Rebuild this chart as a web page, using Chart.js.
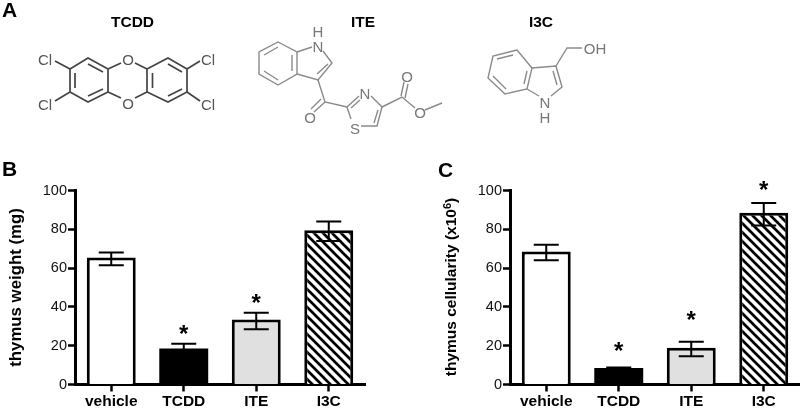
<!DOCTYPE html>
<html>
<head>
<meta charset="utf-8">
<title>Thymus weight and cellularity</title>
<script src="https://cdn.jsdelivr.net/npm/chart.js@4"></script>
<style>
    html, body { margin: 0; padding: 0; background: #fff; }
    #page { position: relative; width: 800px; height: 408px; overflow: hidden; font-family: "Liberation Sans", Arial, sans-serif; }
    canvas { position: absolute; top: 0; }
    #weightChart { left: 0; }
    #cellChart { left: 420px; }
    svg { position: absolute; left: 0; top: 0; }
    svg text { font-family: "Liberation Sans", Arial, sans-serif; }
    .panel { font-size: 21px; font-weight: bold; fill: #000; }
    .name { font-size: 15.5px; font-weight: bold; fill: #000; text-anchor: middle; }
    .atom { font-size: 15px; text-anchor: middle; }
    .dark { stroke: #444; stroke-width: 1.7; fill: none; }
    .grey { stroke: #8a8a8a; stroke-width: 1.4; fill: none; }
    .axis-title { font-size: 15.5px; font-weight: bold; fill: #000; text-anchor: middle; }
</style>
</head>
<body>
<div id="page">
    <canvas id="weightChart" width="400" height="408"></canvas>
    <canvas id="cellChart" width="380" height="408"></canvas>

    <svg width="800" height="408">
        <text class="panel" x="2" y="17">A</text>
        <text class="panel" x="2" y="176">B</text>
        <text class="panel" x="438" y="177">C</text>
        <text class="name" x="132.5" y="27">TCDD</text>
        <text class="name" x="363" y="27">ITE</text>
        <text class="name" x="541" y="27">I3C</text>
        <text class="axis-title" transform="translate(456 287) rotate(-90)">thymus cellularity (x10<tspan dy="-5" font-size="11">6</tspan><tspan dy="5">)</tspan></text>

        <!-- TCDD -->
        <g class="dark">
            <path d="M70 69 L88 58 L108 69 L108 92 L88 102 L70 92 Z"/>
            <path d="M147 69 L168 58 L187 69 L187 92 L168 102 L147 92 Z"/>
            <path d="M108 69 L121 63 M135 63 L147 69 M108 92 L121 98 M135 98 L147 92"/>
            <path d="M75 73 L75 88 M88 64 L103 72 M88 96 L103 89 M152.5 73 L152.5 88 M168 64 L182 72 M168 96 L182 89"/>
            <path d="M70 69 L55 61 M70 92 L55 101 M187 69 L200 61 M187 92 L200 101"/>
        </g>
        <g fill="#555">
            <text class="atom" x="45" y="65">Cl</text>
            <text class="atom" x="45" y="110">Cl</text>
            <text class="atom" x="208" y="65">Cl</text>
            <text class="atom" x="208" y="110">Cl</text>
            <text class="atom" x="128" y="65">O</text>
            <text class="atom" x="128" y="109">O</text>
        </g>

        <!-- ITE -->
        <g class="grey">
            <path d="M278 42 L297 52 L297 74 L278 85 L259 74 L259 52 Z"/>
            <path d="M264 55 L278 47 M264 71 L278 80 M292 55 L292 71"/>
            <path d="M297 52 L312 47 M323 51 L332 63 L318 80 L297 74 M328 64 L317 74"/>
            <path d="M318 80 L325 102 L347 107 M325 102 L314 112 M321 99 L311 109"/>
            <path d="M347 107 L359 96 M371 96 L382 107 L377 126 L361 126 M351 108 L360 100 M378 110 L374 123 M347 107 L351 119"/>
            <path d="M382 107 L402 97 L415 108 M425 110 L442 103 M401 96 L404 82 M405 98 L408 84"/>
        </g>
        <g fill="#777">
            <text class="atom" x="318" y="37">H</text>
            <text class="atom" x="318" y="52">N</text>
            <text class="atom" x="310" y="123">O</text>
            <text class="atom" x="365" y="99">N</text>
            <text class="atom" x="355" y="134">S</text>
            <text class="atom" x="407" y="82">O</text>
            <text class="atom" x="420" y="118">O</text>
        </g>

        <!-- I3C -->
        <g class="grey">
            <path d="M517 50 L493 56 L488 78 L505 94 L527 89 L532 68 Z"/>
            <path d="M513 55 L497 59 M493 76 L506 89 M527 71 L524 84" />
            <path d="M532 68 L556 66 L562 87 L551 96 M539 96 L527 89 M553 71 L557 85"/>
            <path d="M556 66 L567 48 L582 48"/>
        </g>
        <g fill="#777">
            <text class="atom" x="545" y="108">N</text>
            <text class="atom" x="545" y="123">H</text>
            <text class="atom" x="595" y="54">OH</text>
        </g>
    </svg>
</div>

<script>
const categories = ['vehicle', 'TCDD', 'ITE', 'I3C'];
const yTicks = [0, 20, 40, 60, 80, 100];

const weightMeans = [65.5, 18.5, 33.5, 79.5];
const weightHigh = [68, 21, 37, 84];
const weightLow = [61.5, 15, 28.5, 74];
const weightStars = [null, 27, 43, null];

const cellMeans = [68.5, 8.5, 19, 88.5];
const cellHigh = [72, 8.8, 22, 93.5];
const cellLow = [64, 7, 14.5, 82];
const cellStars = [null, 18, 34, 101];

const fontFamily = '"Liberation Sans", Arial, sans-serif';

// diagonal stripes for the I3C bar
function makeHatch() {
    const size = 9;
    const tile = document.createElement('canvas');
    tile.width = size;
    tile.height = size;
    const c = tile.getContext('2d');
    c.fillStyle = '#fff';
    c.fillRect(0, 0, size, size);
    c.strokeStyle = '#000';
    c.lineWidth = 2.7;
    c.beginPath();
    c.moveTo(-2, -2);
    c.lineTo(size + 2, size + 2);
    c.moveTo(-2, size - 2);
    c.lineTo(2, size + 2);
    c.moveTo(size - 2, -2);
    c.lineTo(size + 2, 2);
    c.stroke();
    return c.createPattern(tile, 'repeat');
}

const errorBars = {
    id: 'errorBars',
    afterDatasetsDraw(chart, args, opts) {
        const c = chart.ctx;
        const x = chart.scales.x;
        const y = chart.scales.y;
        c.save();
        c.strokeStyle = '#000';
        c.lineWidth = 2;
        c.fillStyle = '#000';
        c.font = 'bold 24px ' + fontFamily;
        c.textAlign = 'center';
        c.textBaseline = 'middle';
        categories.forEach((name, i) => {
            const px = x.getPixelForValue(i);
            const top = y.getPixelForValue(opts.high[i]);
            const bottom = y.getPixelForValue(opts.low[i]);
            c.beginPath();
            c.moveTo(px, top);
            c.lineTo(px, bottom);
            c.moveTo(px - 12.5, top);
            c.lineTo(px + 12.5, top);
            c.moveTo(px - 12.5, bottom);
            c.lineTo(px + 12.5, bottom);
            c.stroke();
            if (opts.stars[i] !== null) {
                c.fillText('*', px, y.getPixelForValue(opts.stars[i]) + 3);
            }
        });
        c.restore();
    }
};

function drawPanel(id, means, high, low, stars, title, leftWidth) {
    const ctx = document.getElementById(id).getContext('2d');
    return new Chart(ctx, {
        type: 'bar',
        data: {
            labels: categories,
            datasets: [{
                data: means,
                backgroundColor: ['#fff', '#000', '#e0e0e0', makeHatch()],
                borderColor: '#000',
                borderWidth: [3, 0, 3, 3], // black bar needs no border, avoids a seam
                borderSkipped: 'bottom',
                barPercentage: 0.675,
                categoryPercentage: 1
            }]
        },
        options: {
            responsive: false,
            animation: false,
            layout: { padding: { top: 190.5, right: id === 'weightChart' ? 35 : 0, bottom: 0, left: 0 } },
            plugins: {
                legend: { display: false },
                tooltip: { enabled: false },
                errorBars: { high: high, low: low, stars: stars }
            },
            scales: {
                x: {
                    afterFit(scale) { scale.height = 23.5; },
                    border: { color: '#000', width: 3 },
                    grid: { offset: false, drawOnChartArea: false, color: '#000', tickLength: 7, tickWidth: 2.5 },
                    ticks: { color: '#000', padding: 1, maxRotation: 0, font: { family: fontFamily, size: 15.5, weight: 'bold' } }
                },
                y: {
                    min: 0,
                    max: 100,
                    afterFit(scale) { scale.width = leftWidth; },
                    afterBuildTicks(scale) { scale.ticks = yTicks.map(v => ({ value: v })); },
                    border: { color: '#000', width: 3 },
                    grid: { drawOnChartArea: false, color: '#000', tickLength: 7, tickWidth: 2.5 },
                    ticks: { color: '#111', padding: 1, font: { family: fontFamily, size: 14.5 } },
                    title: {
                        display: title !== null,
                        text: title || '',
                        color: '#000',
                        padding: { top: 6, bottom: 0 },
                        font: { family: fontFamily, size: 16.8, weight: 'bold' }
                    }
                }
            }
        },
        plugins: [errorBars]
    });
}

drawPanel('weightChart', weightMeans, weightHigh, weightLow, weightStars, 'thymus weight (mg)', 75);
// panel C title needs a raised 6, so it is in the svg
drawPanel('cellChart', cellMeans, cellHigh, cellLow, cellStars, null, 90);
</script>
</body>
</html>
